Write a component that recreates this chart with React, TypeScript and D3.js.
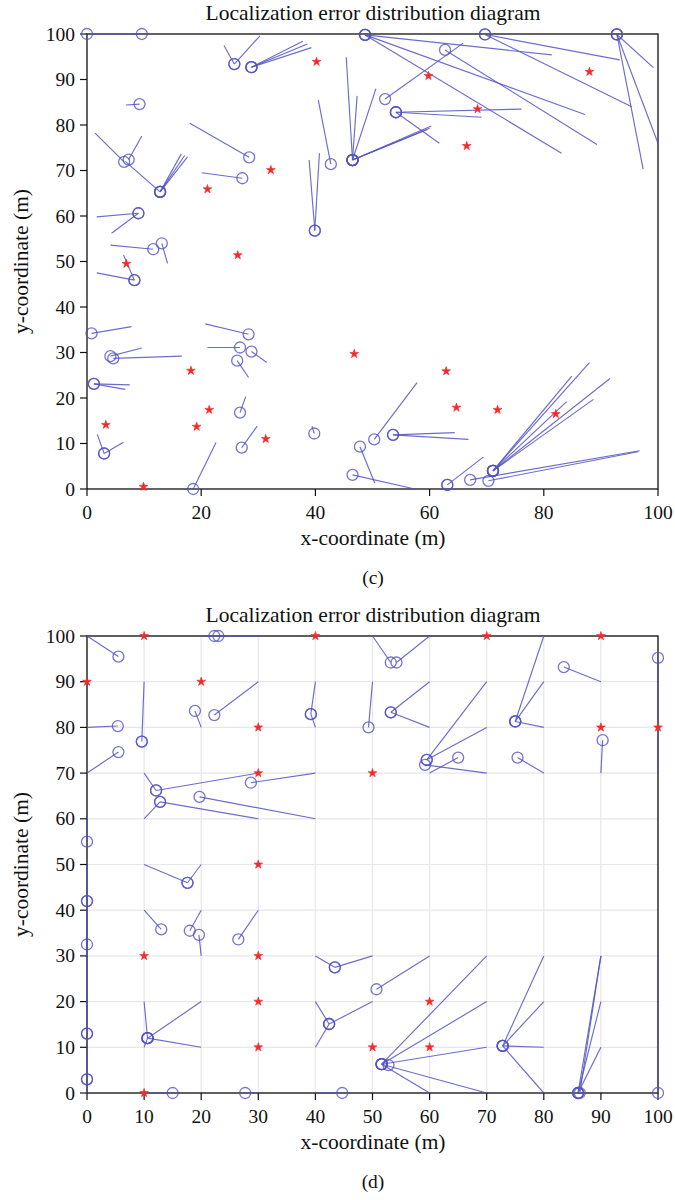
import React from "react";
import * as d3 from "d3";

// Panel (c): anchors (red stars)
const anchorsC: [number, number][] = [
  [40.2, 93.9], [59.8, 90.8], [88, 91.7], [68.4, 83.5], [66.5, 75.4], [32.2, 70.1],
  [21.1, 65.9], [26.4, 51.4], [6.9, 49.5], [18.2, 26], [46.8, 29.7], [21.4, 17.4],
  [19.2, 13.7], [3.3, 14.1], [31.3, 11], [9.9, 0.5], [62.9, 25.9], [64.7, 17.9],
  [71.9, 17.4], [82.1, 16.5],
];

// Panel (c): estimated position (circle) -> true position [ex, ey, tx, ty]
const nodesC: number[][] = [
  [0, 100, 9.6, 100], [9.6, 100, 9.6, 100],
  [25.8, 93.4, 24, 97.4], [25.8, 93.4, 30.3, 99.6],
  [28.8, 92.7, 37.8, 98.4], [28.8, 92.7, 38.6, 97.8], [28.8, 92.7, 39.3, 97],
  [9.2, 84.6, 6.8, 84.4],
  [6.5, 71.9, 1.4, 78.2], [7.3, 72.4, 9.6, 77.6],
  [12.8, 65.3, 6.7, 72], [12.8, 65.3, 16.5, 73.6], [12.8, 65.3, 17.1, 73.3], [12.8, 65.3, 17.6, 73.0],
  [28.4, 72.9, 18, 80.4], [27.2, 68.3, 20.1, 69.5],
  [42.7, 71.4, 40.5, 85.5],
  [39.9, 56.8, 38.9, 72.3], [39.9, 56.8, 40.7, 73.8],
  [46.5, 72.3, 45.4, 94.9], [46.5, 72.3, 47.3, 86.4], [46.5, 72.3, 50.6, 88],
  [46.5, 72.3, 59.6, 79.0], [46.5, 72.3, 60, 79.3], [46.5, 72.3, 60.3, 79.8],
  [9, 60.6, 1.7, 59.8], [9, 60.6, 4.3, 56.2],
  [11.6, 52.7, 4.1, 53.6], [13.1, 54, 14.1, 49.6],
  [8.3, 45.9, 6.4, 51.4], [8.3, 45.9, 1.7, 47.5],
  [48.7, 99.8, 81.4, 95.4], [48.7, 99.8, 87.2, 82.3], [48.7, 99.8, 83.1, 73.8],
  [62.7, 96.5, 89.3, 75.7], [52.2, 85.7, 65.9, 98],
  [54.1, 82.8, 76.1, 83.5], [54.1, 82.8, 69.1, 81.7], [54.1, 82.8, 61.7, 76],
  [69.7, 99.9, 93.3, 94.3], [69.7, 99.9, 95.4, 84],
  [92.8, 99.9, 99.2, 92.6], [92.8, 99.9, 97.4, 70.3], [92.8, 99.9, 100, 76],
  [0.8, 34.2, 7.8, 35.7], [28.3, 34, 20.7, 36.3],
  [4.1, 29.2, 9.6, 31], [4.6, 28.7, 16.6, 29.2],
  [26.8, 31.1, 21.1, 31.1], [28.8, 30.2, 31.5, 27.8], [26.3, 28.2, 28.3, 24.5],
  [1.2, 23.1, 7.5, 22.9], [1.2, 23.1, 6.7, 21.9],
  [26.8, 16.8, 27.8, 20.3], [27.1, 9.1, 29.8, 13.8],
  [3, 7.8, 1.8, 12], [3, 7.8, 6.4, 10.3],
  [18.6, 0, 22.6, 10.2], [39.8, 12.2, 39.4, 13.8],
  [47.8, 9.3, 50.4, 1.3], [46.5, 3.1, 57.4, 0],
  [50.3, 10.9, 57.8, 23.4],
  [53.6, 11.9, 64.4, 12.4], [53.6, 11.9, 66.8, 10.9],
  [63.1, 0.9, 69.4, 7], [63.1, 0.9, 63.1, 0.9],
  [67.1, 2, 96.8, 8.4], [70.3, 1.8, 96.5, 8.2],
  [71.1, 4, 84.9, 24.8], [71.1, 4, 88, 27.8], [71.1, 4, 91.6, 24.3],
  [71.1, 4, 88.7, 19.7], [71.1, 4, 84, 19.2],
];

// Panel (d): anchors
const anchorsD: [number, number][] = [
  [10, 100], [40, 100], [70, 100], [90, 100], [0, 90], [20, 90], [30, 80], [90, 80],
  [100, 80], [30, 70], [50, 70], [30, 50], [10, 30], [30, 30], [30, 20], [60, 20],
  [30, 10], [50, 10], [60, 10], [10, 0],
];

// Panel (d): estimated -> true
const nodesD: number[][] = [
  [5.5, 95.5, 0, 100], [22.3, 100, 20, 100], [23, 100, 30, 100],
  [18.9, 83.6, 20, 80], [22.3, 82.7, 30, 90], [5.4, 80.3, 0, 80],
  [9.6, 76.9, 10, 90], [9.6, 76.9, 9.6, 76.9], [5.5, 74.6, 0, 70],
  [39.2, 82.9, 40, 90], [39.2, 82.9, 40, 80], [49.3, 80, 50, 90],
  [12.1, 66.2, 10, 70], [12.1, 66.2, 30, 70], [12.8, 63.7, 10, 60], [12.8, 63.7, 30, 60],
  [19.7, 64.8, 40, 60], [28.7, 67.9, 40, 70],
  [0, 55, 0, 60], [0, 42, 0, 50], [0, 42, 0, 30], [0, 32.5, 0, 40],
  [0, 13, 0, 20], [0, 13, 0, 30], [0, 3, 0, 10], [0, 3, 0, 0],
  [17.6, 46, 10, 50], [17.6, 46, 20, 50], [13, 35.8, 10, 40], [18, 35.5, 20, 40],
  [19.6, 34.6, 20, 30], [26.5, 33.6, 30, 40],
  [43.4, 27.5, 40, 30], [43.4, 27.5, 50, 30],
  [10.6, 12, 10, 20], [10.6, 12, 20, 20], [10.6, 12, 20, 10], [10.6, 12, 10, 10],
  [42.4, 15.1, 40, 20], [42.4, 15.1, 50, 20], [42.4, 15.1, 40, 10],
  [15, 0, 10, 0], [27.7, 0, 30, 0], [44.7, 0, 40, 0],
  [50.7, 22.7, 60, 30],
  [51.6, 6.3, 70, 30], [51.6, 6.3, 70, 20], [51.6, 6.3, 70, 10], [51.6, 6.3, 60, 0],
  [51.6, 6.3, 70, 0], [52.8, 6.1, 52.8, 6.1],
  [72.8, 10.3, 80, 30], [72.8, 10.3, 80, 20], [72.8, 10.3, 80, 10], [72.8, 10.3, 80, 0],
  [86, 0, 90, 30], [86.3, 0, 90, 30], [86, 0, 90, 20], [86, 0, 90, 10],
  [100, 0, 100, 30], [100, 95.2, 100, 70],
  [53.2, 94.2, 50, 100], [54.2, 94.2, 60, 100],
  [75, 81.3, 80, 100], [75, 81.3, 80, 90], [75, 81.3, 80, 80],
  [83.5, 93.2, 90, 90],
  [53.2, 83.3, 60, 90], [53.2, 83.3, 60, 80],
  [59.5, 72.9, 70, 90], [59.5, 72.9, 70, 80], [59.2, 71.8, 70, 70],
  [65, 73.4, 60, 70], [75.4, 73.4, 80, 70], [90.3, 77.2, 90, 70],
];

const xTicksC = [0, 20, 40, 60, 80, 100];
const yTicksC = [0, 10, 20, 30, 40, 50, 60, 70, 80, 90, 100];
const xTicksD = [0, 10, 20, 30, 40, 50, 60, 70, 80, 90, 100];
const yTicksD = [0, 10, 20, 30, 40, 50, 60, 70, 80, 90, 100];

const FONT = "'Liberation Serif', 'DejaVu Serif', serif";
const BLUE = "#5252c4";
const RED = "#f22a2a";

function Panel({ top, bottom, anchors, nodes, xTicks, yTicks, grid, label }: any) {
  const x = d3.scaleLinear().domain([0, 100]).range([87, 658]);
  const y = d3.scaleLinear().domain([0, 100]).range([bottom, top]);
  const star = d3.symbol(d3.symbolStar, 24)();
  return (
    <g>
      <text x={373} y={top - 14} textAnchor="middle" fontFamily={FONT} fontSize={21.5} fill="#111">
        Localization error distribution diagram
      </text>
      {grid && (
        <g>
          {xTicks.map((t: number) => (
            <line key={"gx" + t} x1={x(t)} x2={x(t)} y1={y(0)} y2={y(100)} stroke="#e6e6ec" strokeWidth={1.2} />
          ))}
          {yTicks.map((t: number) => (
            <line key={"gy" + t} x1={x(0)} x2={x(100)} y1={y(t)} y2={y(t)} stroke="#e6e6ec" strokeWidth={1.2} />
          ))}
        </g>
      )}
      <rect x={x(0)} y={y(100)} width={x(100) - x(0)} height={y(0) - y(100)} fill="none" stroke="#111" strokeWidth={1.3} />
      {xTicks.map((t: number) => (
        <g key={"xt" + t}>
          <line x1={x(t)} x2={x(t)} y1={y(0)} y2={y(0) + 7} stroke="#111" strokeWidth={1.2} />
          <text x={x(t)} y={y(0) + 30} textAnchor="middle" fontFamily={FONT} fontSize={19.5} fill="#111">{t}</text>
        </g>
      ))}
      {yTicks.map((t: number) => (
        <g key={"yt" + t}>
          <line x1={x(0) - 7} x2={x(0)} y1={y(t)} y2={y(t)} stroke="#111" strokeWidth={1.2} />
          <text x={x(0) - 12} y={y(t) + 6.5} textAnchor="end" fontFamily={FONT} fontSize={19.5} fill="#111">{t}</text>
        </g>
      ))}
      <text x={373} y={y(0) + 56} textAnchor="middle" fontFamily={FONT} fontSize={21.5} fill="#111">x-coordinate (m)</text>
      <text transform={`translate(28,${(y(0) + y(100)) / 2}) rotate(-90)`} textAnchor="middle" fontFamily={FONT} fontSize={21.5} fill="#111">
        y-coordinate (m)
      </text>
      <text x={373} y={y(0) + 95} textAnchor="middle" fontFamily={FONT} fontSize={19.5} fill="#111">{label}</text>
      {nodes.map((n: number[], i: number) => (
        <line key={"l" + i} x1={x(n[0])} y1={y(n[1])} x2={x(n[2])} y2={y(n[3])} stroke={BLUE} strokeWidth={1.15} strokeOpacity={0.85} />
      ))}
      {nodes.map((n: number[], i: number) => (
        <circle key={"c" + i} cx={x(n[0])} cy={y(n[1])} r={5.5} fill="none" stroke={BLUE} strokeWidth={1.3} strokeOpacity={0.8} />
      ))}
      {anchors.map((a: [number, number], i: number) => (
        <path key={"a" + i} d={star as string} transform={`translate(${x(a[0])},${y(a[1])})`} fill={RED} stroke={RED} strokeWidth={1} strokeOpacity={0.6} />
      ))}
    </g>
  );
}

export default function App() {
  return (
    <svg width={675} height={1200} style={{ position: "absolute", left: 0, top: 0, background: "#fff" }}>
      <rect width={675} height={1200} fill="#fff" />
      <Panel top={34} bottom={489} anchors={anchorsC} nodes={nodesC} xTicks={xTicksC} yTicks={yTicksC} grid={false} label="(c)" />
      <Panel top={636} bottom={1093} anchors={anchorsD} nodes={nodesD} xTicks={xTicksD} yTicks={yTicksD} grid={true} label="(d)" />
    </svg>
  );
}
